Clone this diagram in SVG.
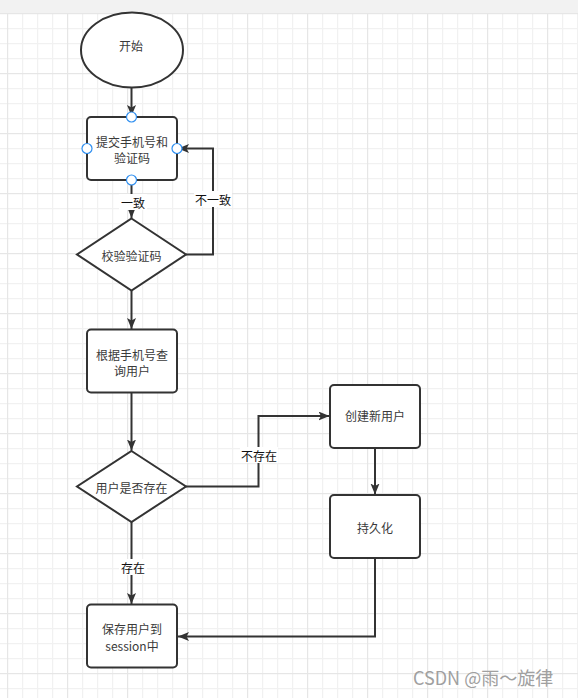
<svg xmlns="http://www.w3.org/2000/svg" width="578" height="698" viewBox="0 0 578 698">
  <style>
    .node { fill: #ffffff; stroke: #333333; stroke-width: 2; }
    .txt { font-family: "Noto Sans CJK SC", "Microsoft YaHei", sans-serif; font-size: 12px; fill: #3a3a3a; text-anchor: middle; dominant-baseline: central; }
    .edge { fill: none; stroke: #333333; stroke-width: 2; }
    .lbl { font-family: "Noto Sans CJK SC", sans-serif; font-size: 12px; fill: #111111; text-anchor: middle; dominant-baseline: central; }
    .lblbg { fill: #ffffff; }
    .port { fill: #ffffff; stroke: #2f8ff0; stroke-width: 1.2; }
  </style>
  <defs>
    <pattern id="grid" patternUnits="userSpaceOnUse" x="7" y="13" width="60" height="60">
      <rect x="0" y="0" width="60" height="60" fill="#ffffff"/>
      <rect x="15" y="0" width="1.2" height="60" fill="#f1f1f1"/>
      <rect x="30" y="0" width="1.2" height="60" fill="#f1f1f1"/>
      <rect x="45" y="0" width="1.2" height="60" fill="#f1f1f1"/>
      <rect x="0" y="15" width="60" height="1.2" fill="#f1f1f1"/>
      <rect x="0" y="30" width="60" height="1.2" fill="#f1f1f1"/>
      <rect x="0" y="45" width="60" height="1.2" fill="#f1f1f1"/>
      <rect x="0" y="0" width="1.2" height="60" fill="#e6e6e6"/>
      <rect x="0" y="0" width="60" height="1.2" fill="#e6e6e6"/>
    </pattern>
    <marker id="arrow" markerUnits="userSpaceOnUse" markerWidth="12" markerHeight="10" refX="11" refY="4.5" orient="auto">
      <path d="M0,0 L11,4.5 L0,9 L2.5,4.5 z" fill="#333333"/>
    </marker>
  </defs>

  <rect x="0" y="0" width="578" height="698" fill="#ffffff"/>
  <rect x="0" y="13" width="578" height="685" fill="url(#grid)"/>
  <rect x="0" y="0" width="578" height="13" fill="#f2f2f2"/>

  <g id="connectors">
    <path class="edge" d="M131.5,88 V116" marker-end="url(#arrow)"/>
    <path class="edge" d="M131.5,180 V218" marker-end="url(#arrow)"/>
    <path class="edge" d="M186,254.5 H213 V148.5 H178" marker-end="url(#arrow)"/>
    <path class="edge" d="M131.5,290.5 V329" marker-end="url(#arrow)"/>
    <path class="edge" d="M131.5,393 V450.5" marker-end="url(#arrow)"/>
    <path class="edge" d="M186,486.5 H258.5 V416 H329.5" marker-end="url(#arrow)"/>
    <path class="edge" d="M375,448 V494.5" marker-end="url(#arrow)"/>
    <path class="edge" d="M375,558 V636.5 H178" marker-end="url(#arrow)"/>
    <path class="edge" d="M131.5,522 V604" marker-end="url(#arrow)"/>

    <rect class="lblbg" x="119" y="194" width="28" height="16"/>
    <text class="lbl" x="133" y="202">一致</text>
    <rect class="lblbg" x="194" y="191" width="38" height="16"/>
    <text class="lbl" x="213" y="199">不一致</text>
    <rect class="lblbg" x="240" y="447" width="38" height="16"/>
    <text class="lbl" x="259" y="455">不存在</text>
    <rect class="lblbg" x="119" y="559" width="28" height="16"/>
    <text class="lbl" x="133" y="567">存在</text>
  </g>

  <g id="start">
    <ellipse class="node" cx="132" cy="50" rx="51" ry="37.5"/>
    <text class="txt" x="131" y="45">开始</text>
  </g>

  <g id="submit">
    <rect class="node" x="87" y="117" width="90" height="63" rx="4"/>
    <text class="txt" x="132" y="141.5">提交手机号和</text>
    <text class="txt" x="132" y="157.5">验证码</text>
    <circle class="port" cx="131.5" cy="117" r="5"/>
    <circle class="port" cx="87" cy="148.5" r="5"/>
    <circle class="port" cx="177" cy="148.5" r="5"/>
    <circle class="port" cx="131.5" cy="180" r="5"/>
  </g>

  <g id="verify">
    <path class="node" d="M131.5,218.5 L186,254.5 L131.5,290.5 L77,254.5 z"/>
    <text class="txt" x="131.5" y="255">校验验证码</text>
  </g>

  <g id="query">
    <rect class="node" x="87" y="329.5" width="90" height="63" rx="4"/>
    <text class="txt" x="132" y="354">根据手机号查</text>
    <text class="txt" x="132" y="370.5">询用户</text>
  </g>

  <g id="exists">
    <path class="node" d="M131.5,451 L186,486.5 L131.5,522 L77,486.5 z"/>
    <text class="txt" x="131.5" y="487">用户是否存在</text>
  </g>

  <g id="create">
    <rect class="node" x="330" y="385" width="90" height="63" rx="4"/>
    <text class="txt" x="375" y="415.5">创建新用户</text>
  </g>

  <g id="persist">
    <rect class="node" x="330" y="495" width="90" height="63" rx="4"/>
    <text class="txt" x="375" y="527.5">持久化</text>
  </g>

  <g id="save">
    <rect class="node" x="87" y="604.5" width="90" height="63" rx="4"/>
    <text class="txt" x="132" y="628.5">保存用户到</text>
    <text class="txt" x="132" y="645">session中</text>
  </g>

  <text x="413" y="685" font-family="Noto Sans CJK SC, sans-serif" font-size="18" fill="#a0a0a0">CSDN @雨～旋律</text>
</svg>
